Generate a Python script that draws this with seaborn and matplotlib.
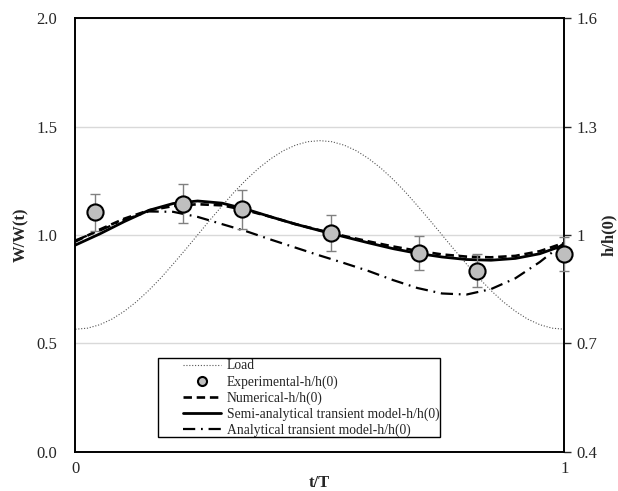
import numpy as np
import seaborn as sns
import matplotlib.pyplot as plt
from matplotlib.lines import Line2D
from matplotlib.patches import Rectangle

# dimensionless time t/T
t = [0.00, 0.05, 0.10, 0.15, 0.20, 0.25, 0.30, 0.35, 0.40, 0.45, 0.50,
     0.55, 0.60, 0.65, 0.70, 0.75, 0.80, 0.85, 0.90, 0.95, 1.00]

# load (left axis, W/W(t)), read at finer steps
t_load = [0.000, 0.025, 0.050, 0.075, 0.100, 0.125, 0.150, 0.175, 0.200, 0.225,
          0.250, 0.275, 0.300, 0.325, 0.350, 0.375, 0.400, 0.425, 0.450, 0.475,
          0.500, 0.525, 0.550, 0.575, 0.600, 0.625, 0.650, 0.675, 0.700, 0.725,
          0.750, 0.775, 0.800, 0.825, 0.850, 0.875, 0.900, 0.925, 0.950, 0.975, 1.000]
load = [0.565, 0.570, 0.586, 0.612, 0.648, 0.692, 0.744, 0.802, 0.866, 0.932,
        1.000, 1.068, 1.134, 1.198, 1.256, 1.308, 1.352, 1.388, 1.414, 1.430,
        1.435, 1.430, 1.414, 1.388, 1.352, 1.308, 1.256, 1.198, 1.134, 1.068,
        1.000, 0.932, 0.866, 0.802, 0.744, 0.692, 0.648, 0.612, 0.586, 0.570, 0.565]

# h/h(0) curves (right axis)
numerical = [0.982, 1.015, 1.045, 1.068, 1.080, 1.085, 1.082, 1.068, 1.050, 1.030, 1.013,
             0.997, 0.982, 0.968, 0.956, 0.946, 0.940, 0.938, 0.942, 0.955, 0.978]
semi_analytical = [0.972, 1.003, 1.037, 1.068, 1.087, 1.094, 1.088, 1.071, 1.050, 1.030, 1.012,
                   0.995, 0.978, 0.962, 0.949, 0.939, 0.932, 0.930, 0.935, 0.948, 0.972]
analytical = [0.985, 1.012, 1.042, 1.065, 1.064, 1.050, 1.030, 1.010, 0.987, 0.965, 0.943,
              0.922, 0.900, 0.875, 0.853, 0.838, 0.835, 0.850, 0.880, 0.925, 0.978]

# experimental points
exp_t = [0.040, 0.221, 0.340, 0.522, 0.703, 0.821, 1.000]
exp_h = [1.063, 1.086, 1.071, 1.005, 0.949, 0.901, 0.947]
exp_err = [0.051, 0.054, 0.054, 0.050, 0.047, 0.046, 0.046]

sns.set_style("white")
plt.rcParams['font.family'] = ['Liberation Serif', 'DejaVu Serif']

fig = plt.figure(figsize=(6.18, 4.91), dpi=100)
ax = fig.add_axes([0.122, 0.080, 0.791, 0.883])
ax2 = ax.twinx()

dotted = (0, (1, 1.6))
dashed = (0, (3.2, 1.8))
dashdot = (0, (5.5, 2.6, 0.8, 2.6))

sns.lineplot(x=t_load, y=load, ax=ax, color='#555555', lw=0.8, linestyle=dotted)

sns.lineplot(x=t, y=numerical, ax=ax2, color='black', lw=1.9, linestyle=dashed)
sns.lineplot(x=t, y=semi_analytical, ax=ax2, color='black', lw=2.0)
sns.lineplot(x=t, y=analytical, ax=ax2, color='black', lw=1.6, linestyle=dashdot)

ax2.errorbar(exp_t, exp_h, yerr=exp_err, fmt='none', ecolor='#808080',
             elinewidth=1, capsize=3.5, capthick=1, zorder=4, clip_on=False)
sns.scatterplot(x=exp_t, y=exp_h, ax=ax2, s=135, color='#bfbfbf',
                edgecolor='black', linewidth=1.5, zorder=5, clip_on=False)

# axes
fs = 12
ax.set_xlim(0, 1)
ax.set_xticks([0, 1])
ax.set_xticklabels(['0', '1'])
ax.set_ylim(0, 2)
ax.set_yticks([0, 0.5, 1.0, 1.5, 2.0])
ax.set_yticklabels(['0.0', '0.5', '1.0', '1.5', '2.0'])
ax.tick_params(axis='x', length=0, pad=7, labelsize=fs)
ax.tick_params(axis='y', length=0, pad=13, labelsize=fs)
ax.yaxis.grid(True, color='#d9d9d9', lw=1)
ax.set_axisbelow(True)

ax2.set_ylim(0.4, 1.6)
ax2.set_yticks([0.4, 0.7, 1.0, 1.3, 1.6])
ax2.set_yticklabels(['0.4', '0.7', '1', '1.3', '1.6'])
ax2.tick_params(axis='y', direction='out', length=5, width=1, pad=4, labelsize=fs, right=True)

for a in (ax, ax2):
    for s in a.spines.values():
        s.set_color('black')
        s.set_linewidth(1.2)

ax.set_xlabel('t/T', fontweight='bold', fontsize=fs, labelpad=-2)
ax.set_ylabel('W/W(t)', fontweight='bold', fontsize=fs, labelpad=5)
ax2.set_ylabel('h/h(0)', fontweight='bold', fontsize=fs, labelpad=2)

# legend box drawn separately so the entries can sit indented as in the original
box = Rectangle((0.169, 0.033), 0.577, 0.183, transform=ax2.transAxes,
                facecolor='white', edgecolor='black', lw=1.0, zorder=6)
ax2.add_patch(box)

handles = [
    Line2D([], [], color='#555555', lw=0.8, linestyle=dotted),
    Line2D([], [], marker='o', linestyle='none', markersize=6.5, markerfacecolor='#bfbfbf',
           markeredgecolor='black', markeredgewidth=1.5),
    Line2D([], [], color='black', lw=1.9, linestyle=dashed),
    Line2D([], [], color='black', lw=2.0),
    Line2D([], [], color='black', lw=1.6, linestyle=dashdot),
]
labels = ['Load', 'Experimental-h/h(0)', 'Numerical-h/h(0)',
          'Semi-analytical transient model-h/h(0)', 'Analytical transient model-h/h(0)']
leg = ax2.legend(handles, labels, loc='upper left', bbox_to_anchor=(0.218, 0.216),
                 frameon=False, fontsize=9.8, handlelength=2.8, handletextpad=0.4,
                 borderpad=0.1, labelspacing=0.2, borderaxespad=0)
leg.set_zorder(7)

fig.savefig('out.png', dpi=100)
